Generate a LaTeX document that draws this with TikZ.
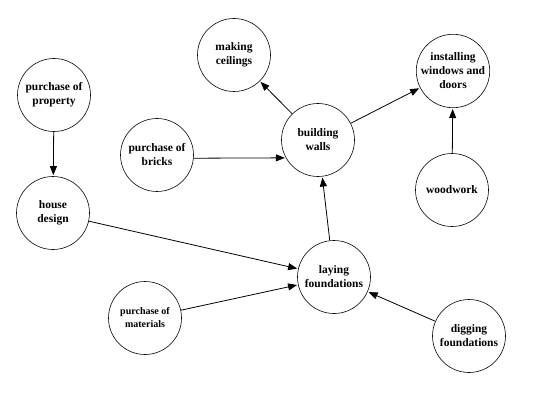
\documentclass[tikz,border=0pt]{standalone}
\usepackage{fontspec}
\setmainfont{Liberation Serif}
\usetikzlibrary{arrows.meta}

\begin{document}
\begin{tikzpicture}[
    x=1pt, y=1pt,
    every node/.style={circle, draw, line width=0.6pt, minimum size=73pt, inner sep=0pt,
        align=center, font=\fontsize{11.5}{14}\selectfont\bfseries},
    small/.style={font=\fontsize{10}{13}\selectfont\bfseries},
    link/.style={-{Triangle[length=9pt,width=7pt]}, line width=0.8pt, shorten >=1pt}
]
\useasboundingbox (0,0) rectangle (550,400);

% nodes
\node (property) at (54,305) {purchase of\\property};
\node (design)   at (53,187) {house\\design};
\node (bricks)   at (157,245) {purchase of\\bricks};
\node (ceilings) at (234,345) {making\\ceilings};
\node (walls)    at (318,260) {building\\walls};
\node (windows)  at (453,329) {installing\\windows and\\doors};
\node (woodwork) at (452,210) {woodwork};
\node (found)    at (334,123) {laying\\foundations};
\node[small] (materials) at (145,82) {purchase of\\materials};
\node (digging)  at (469,64) {digging\\foundations};

% arrows
\draw[link] (property) -- (design);
\draw[link] (bricks.-5) -- (walls.209);
\draw[link] (walls) -- (ceilings);
\draw[link] (walls) -- (windows);
\draw[link] (woodwork) -- (windows);
\draw[link] (found) -- (walls);
\draw[link] (design) -- (found);
\draw[link] (materials) -- (found);
\draw[link] (digging) -- (found);

\end{tikzpicture}
\end{document}
